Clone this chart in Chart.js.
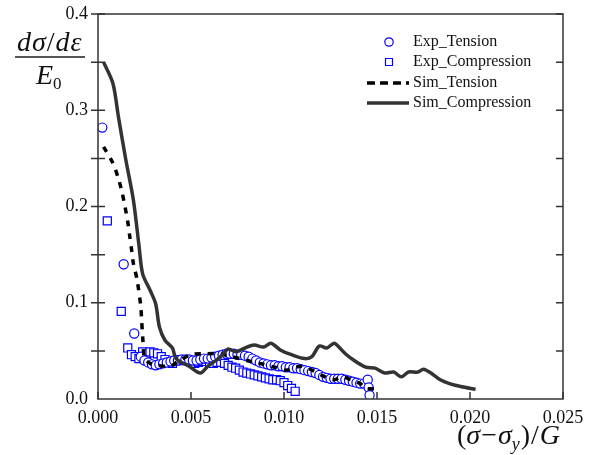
<!DOCTYPE html>
<html>
<head>
<meta charset="utf-8">
<script src="https://cdn.jsdelivr.net/npm/chart.js@4"></script>
<style>
  body { margin: 0; background: #fff; }
  canvas { display: block; }
</style>
</head>
<body>
<canvas id="curveChart" width="597" height="455"></canvas>
<script>
// values
const expTensionX = [0.00023, 0.00138, 0.00195, 0.0023, 0.0025, 0.0027, 0.0029, 0.0031, 0.0033, 0.0035,
  0.0037, 0.0039, 0.0041, 0.0043, 0.0045, 0.0047, 0.0049, 0.0051, 0.0053, 0.0055,
  0.0057, 0.0059, 0.0061, 0.0063, 0.0065, 0.0067, 0.0069, 0.0071, 0.0073, 0.0075,
  0.0077, 0.0079, 0.0081, 0.0083, 0.0085, 0.0087, 0.0089, 0.0091, 0.0093, 0.0095,
  0.0097, 0.0099, 0.0101, 0.0103, 0.0105, 0.0107, 0.0109, 0.0111, 0.0113, 0.0115,
  0.0117, 0.0119, 0.0121, 0.0123, 0.0125, 0.0127, 0.0129, 0.0131, 0.0133, 0.0135,
  0.0137, 0.0139, 0.0141, 0.0143, 0.0145, 0.01455, 0.0146];
const expTensionY = [0.282, 0.140, 0.068, 0.044, 0.040, 0.038, 0.036, 0.035, 0.036, 0.037,
  0.038, 0.039, 0.040, 0.040, 0.041, 0.041, 0.041, 0.040, 0.040, 0.041,
  0.042, 0.042, 0.043, 0.044, 0.045, 0.046, 0.047, 0.047, 0.047, 0.046,
  0.046, 0.045, 0.044, 0.042, 0.040, 0.038, 0.037, 0.036, 0.035, 0.035,
  0.034, 0.034, 0.033, 0.033, 0.032, 0.032, 0.031, 0.030, 0.029, 0.028,
  0.027, 0.025, 0.023, 0.022, 0.021, 0.021, 0.021, 0.021, 0.020, 0.019,
  0.018, 0.017, 0.016, 0.016, 0.020, 0.012, 0.004];

const expCompX = [0.0005, 0.00125, 0.0016, 0.0018, 0.0020, 0.0022, 0.0024, 0.0026, 0.0028, 0.0030,
  0.0032, 0.0034, 0.0036, 0.0038, 0.0040, 0.0042, 0.0044, 0.0046, 0.0048, 0.0050,
  0.0052, 0.0054, 0.0056, 0.0058, 0.0060, 0.0062, 0.0064, 0.0066, 0.0068, 0.0070,
  0.0072, 0.0074, 0.0076, 0.0078, 0.0080, 0.0082, 0.0084, 0.0086, 0.0088, 0.0090,
  0.0092, 0.0094, 0.0096, 0.0098, 0.0100, 0.0102, 0.0104, 0.0106];
const expCompY = [0.185, 0.091, 0.053, 0.046, 0.044, 0.042, 0.049, 0.047, 0.049, 0.048,
  0.047, 0.044, 0.041, 0.038, 0.037, 0.040, 0.041, 0.040, 0.040, 0.038,
  0.037, 0.038, 0.039, 0.039, 0.038, 0.037, 0.038, 0.038, 0.037, 0.035,
  0.033, 0.032, 0.030, 0.028, 0.027, 0.026, 0.025, 0.024, 0.023, 0.022,
  0.021, 0.020, 0.020, 0.019, 0.017, 0.014, 0.011, 0.008];

const simTensionX = [0.0003, 0.0008, 0.0011, 0.0013, 0.00145, 0.0016, 0.0017, 0.0018, 0.0019, 0.0021,
  0.0023, 0.00235, 0.0024, 0.00245, 0.0025, 0.0028, 0.0032, 0.0039, 0.0043, 0.0050,
  0.0058, 0.0065, 0.0072, 0.0080, 0.0087, 0.0095, 0.0101, 0.0109, 0.0115, 0.0122,
  0.0127, 0.0131, 0.0136, 0.0141, 0.0144, 0.0151];
const simTensionY = [0.262, 0.245, 0.229, 0.214, 0.200, 0.184, 0.170, 0.156, 0.141, 0.124,
  0.096, 0.080, 0.065, 0.051, 0.042, 0.037, 0.035, 0.034, 0.039, 0.046,
  0.047, 0.047, 0.044, 0.040, 0.037, 0.033, 0.030, 0.034, 0.030, 0.023,
  0.020, 0.023, 0.020, 0.016, 0.011, 0.011];

const simCompX = [0.0003, 0.0008, 0.0011, 0.0015, 0.0019, 0.0022, 0.0024, 0.0028, 0.0031, 0.0033,
  0.0036, 0.0040, 0.0042, 0.0049, 0.0055, 0.0059, 0.0064, 0.0067, 0.0070, 0.0074,
  0.0079, 0.0084, 0.0089, 0.0093, 0.0098, 0.0104, 0.0111, 0.0115, 0.0119, 0.0123,
  0.0127, 0.0130, 0.0133, 0.0137, 0.0144, 0.0149, 0.0154, 0.0159, 0.0163, 0.0167,
  0.0172, 0.0175, 0.0179, 0.0184, 0.0189, 0.0195, 0.0203];
const simCompY = [0.350, 0.328, 0.293, 0.248, 0.207, 0.160, 0.130, 0.113, 0.099, 0.075,
  0.061, 0.053, 0.042, 0.034, 0.027, 0.034, 0.041, 0.046, 0.052, 0.049,
  0.053, 0.056, 0.054, 0.058, 0.051, 0.046, 0.042, 0.044, 0.055, 0.053,
  0.058, 0.053, 0.047, 0.041, 0.033, 0.032, 0.027, 0.028, 0.023, 0.028,
  0.028, 0.031, 0.027, 0.020, 0.016, 0.013, 0.010];

const xTicks = [0, 0.005, 0.010, 0.015, 0.020, 0.025];
const yTicks = [0, 0.1, 0.2, 0.3, 0.4];

const serif = '"Liberation Serif", "Times New Roman", serif';
const blue = '#0000ff';
const lineGray = '#333333';

function pts(xs, ys) {
  return xs.map((x, i) => ({x: x, y: ys[i]}));
}

const datasets = [
  {
    label: 'Exp_Tension',
    data: pts(expTensionX, expTensionY),
    showLine: false,
    pointStyle: 'circle',
    pointRadius: 4.6,
    borderColor: blue,
    backgroundColor: '#fff',
    borderWidth: 1.2,
    order: 2
  },
  {
    label: 'Exp_Compression',
    data: pts(expCompX, expCompY),
    showLine: false,
    pointStyle: 'rect',
    pointRadius: 5.7,
    borderColor: blue,
    backgroundColor: '#fff',
    borderWidth: 1.2,
    order: 2
  },
  {
    label: 'Sim_Tension',
    data: pts(simTensionX, simTensionY),
    showLine: true,
    pointRadius: 0,
    borderColor: '#000',
    borderWidth: 3.5,
    borderDash: [6, 7],
    tension: 0.3,
    order: 1
  },
  {
    label: 'Sim_Compression',
    data: pts(simCompX, simCompY),
    showLine: true,
    pointRadius: 0,
    borderColor: lineGray,
    borderWidth: 3.5,
    tension: 0.3,
    order: 0
  }
];

// frame, inward ticks, axis titles and legend
const decor = {
  id: 'decor',
  afterDraw(chart) {
    const ctx = chart.ctx;
    const a = chart.chartArea;
    const xs = chart.scales.x;
    const ys = chart.scales.y;
    ctx.save();
    ctx.strokeStyle = lineGray;
    ctx.lineWidth = 1.5;
    ctx.strokeRect(a.left, a.top, a.right - a.left, a.bottom - a.top);

    ctx.beginPath();
    xTicks.forEach(v => {
      const px = xs.getPixelForValue(v);
      ctx.moveTo(px, a.bottom);
      ctx.lineTo(px, a.bottom - 7);
    });
    for (let v = 0.05; v < 0.4; v += 0.05) {
      const py = ys.getPixelForValue(v);
      ctx.moveTo(a.left - 7, py);
      ctx.lineTo(a.left + 7, py);
      ctx.moveTo(a.right, py);
      ctx.lineTo(a.right - 7, py);
    }
    ctx.stroke();

    // y title as a fraction
    ctx.fillStyle = '#111';
    ctx.textBaseline = 'alphabetic';
    ctx.textAlign = 'left';
    let x = 17;
    const parts = [['d', 'italic'], ['σ', 'italic'], ['/', 'normal'], ['d', 'italic'], ['ε', 'italic']];
    parts.forEach(p => {
      ctx.font = p[1] + ' 28px ' + serif;
      ctx.fillText(p[0], x, 51);
      x += ctx.measureText(p[0]).width + 1;
    });
    ctx.strokeStyle = '#555';
    ctx.lineWidth = 2;
    ctx.beginPath();
    ctx.moveTo(15, 57);
    ctx.lineTo(85, 57);
    ctx.stroke();
    ctx.font = 'italic 28px ' + serif;
    ctx.fillText('E', 36, 84);
    ctx.font = '17px ' + serif;
    ctx.fillText('0', 53, 89);

    // x title
    x = 457;
    const xparts = [['(', 'normal', 28, 0, 0], ['σ', 'italic', 28, 0, 1], ['−', 'normal', 28, 0, 1], ['σ', 'italic', 28, 0, 0],
      ['y', 'italic', 18, 6, 1], [')', 'normal', 28, 0, 1], ['/', 'normal', 28, 0, 1], ['G', 'italic', 28, 0, 0]];
    xparts.forEach(p => {
      ctx.font = p[1] + ' ' + p[2] + 'px ' + serif;
      ctx.fillText(p[0], x, 444 + p[3]);
      x += ctx.measureText(p[0]).width + p[4];
    });

    // legend
    const rows = [42, 62, 83, 103];
    chart.data.datasets.forEach((ds, i) => {
      const cy = rows[i];
      if (ds.showLine) {
        ctx.strokeStyle = ds.borderColor;
        ctx.lineWidth = ds.borderWidth;
        ctx.setLineDash(ds.borderDash ? [8, 5] : []);
        ctx.beginPath();
        ctx.moveTo(367, cy);
        ctx.lineTo(409, cy);
        ctx.stroke();
        ctx.setLineDash([]);
      } else {
        ctx.strokeStyle = ds.borderColor;
        ctx.lineWidth = 1.2;
        ctx.fillStyle = '#fff';
        ctx.beginPath();
        if (ds.pointStyle === 'rect') {
          ctx.rect(385.5, cy - 3.5, 7, 7);
        } else {
          ctx.arc(389, cy, 4.2, 0, Math.PI * 2);
        }
        ctx.fill();
        ctx.stroke();
      }
      ctx.fillStyle = '#111';
      ctx.font = '16px ' + serif;
      ctx.textBaseline = 'middle';
      ctx.fillText(ds.label, 413, cy);
    });
    ctx.restore();
  }
};

const config = {
  type: 'scatter',
  data: {datasets: datasets},
  options: {
    responsive: false,
    animation: false,
    layout: {
      padding: {top: 14, right: 34, left: 0, bottom: 0}
    },
    plugins: {
      legend: {display: false},
      tooltip: {enabled: false}
    },
    scales: {
      x: {
        type: 'linear',
        min: 0,
        max: 0.025,
        afterFit: (scale) => { scale.height = 56; },
        afterBuildTicks: (scale) => { scale.ticks = xTicks.map(v => ({value: v})); },
        grid: {display: false},
        border: {display: false},
        ticks: {
          padding: 0,
          color: '#111',
          font: {family: serif, size: 18},
          callback: (v) => Number(v).toFixed(3)
        }
      },
      y: {
        min: 0,
        max: 0.4,
        afterFit: (scale) => { scale.width = 98; },
        afterBuildTicks: (scale) => { scale.ticks = yTicks.map(v => ({value: v})); },
        grid: {display: false},
        border: {display: false},
        ticks: {
          padding: 2,
          color: '#111',
          font: {family: serif, size: 18},
          callback: (v) => Number(v).toFixed(1)
        }
      }
    }
  },
  plugins: [decor]
};

const curveChart = new Chart(document.getElementById('curveChart'), config);
</script>
</body>
</html>
